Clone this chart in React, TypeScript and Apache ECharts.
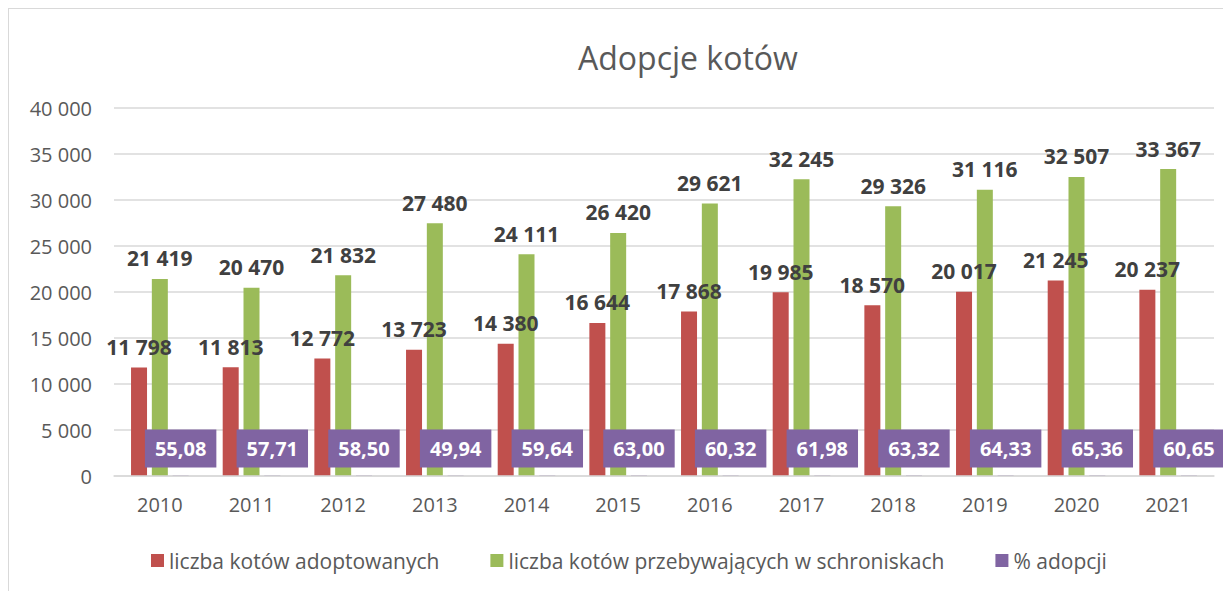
import React, { useEffect, useRef } from "react";
import * as echarts from "echarts";

const years = ["2010", "2011", "2012", "2013", "2014", "2015", "2016", "2017", "2018", "2019", "2020", "2021"];
const adopted = [11798, 11813, 12772, 13723, 14380, 16644, 17868, 19985, 18570, 20017, 21245, 20237];
const inShelters = [21419, 20470, 21832, 27480, 24111, 26420, 29621, 32245, 29326, 31116, 32507, 33367];
const adoptionPct = [55.08, 57.71, 58.5, 49.94, 59.64, 63.0, 60.32, 61.98, 63.32, 64.33, 65.36, 60.65];

const seriesNames = ["liczba kotów adoptowanych", "liczba kotów przebywających w schroniskach", "% adopcji"];

const FONT = "'Open Sans', 'Noto Sans', sans-serif";

function thousands(v: number): string {
  return String(Math.round(v)).replace(/\B(?=(\d{3})+(?!\d))/g, " ");
}

export default function App() {
  const ref = useRef<HTMLDivElement>(null);

  useEffect(() => {
    document.body.style.overflow = "hidden";
    const chart = echarts.init(ref.current!, undefined, { renderer: "svg" });
    const valueLabel = {
      show: true,
      position: "top",
      distance: 10,
      color: "#404040",
      fontFamily: FONT,
      fontWeight: "bold",
      fontSize: 21,
      formatter: (p: any) => thousands(p.value),
    };
    chart.setOption({
      animation: false,
      backgroundColor: "#ffffff",
      textStyle: { fontFamily: FONT },
      title: {
        text: "Adopcje kotów",
        left: 564,
        top: 27,
        textStyle: { fontFamily: FONT, fontSize: 32, fontWeight: "normal", color: "#595959" },
      },
      legend: {
        left: 137,
        top: 536,
        icon: "rect",
        itemWidth: 13,
        itemHeight: 13,
        itemGap: 51,
        textStyle: { fontFamily: FONT, fontSize: 21, color: "#595959" },
        data: seriesNames,
      },
      grid: { left: 105, right: 17, top: 99, bottom: 115 },
      xAxis: {
        type: "category",
        data: years,
        z: 5,
        axisLine: { lineStyle: { color: "#d9d9d9", width: 1.5 } },
        axisTick: { show: false },
        axisLabel: { color: "#595959", fontSize: 20, fontFamily: FONT, margin: 18 },
      },
      yAxis: {
        type: "value",
        min: 0,
        max: 40000,
        interval: 5000,
        axisLine: { show: false },
        axisTick: { show: false },
        splitLine: { lineStyle: { color: "#d9d9d9", width: 1.5 } },
        axisLabel: {
          color: "#595959",
          fontSize: 20,
          fontFamily: FONT,
          margin: 22,
          formatter: (v: number) => thousands(v),
        },
      },
      series: [
        {
          name: seriesNames[0],
          type: "bar",
          data: adopted,
          barWidth: 16,
          barGap: "30%",
          itemStyle: { color: "#c0504d" },
          label: valueLabel,
        },
        {
          name: seriesNames[1],
          type: "bar",
          data: inShelters,
          barWidth: 16,
          barGap: "30%",
          itemStyle: { color: "#9bbb59" },
          label: valueLabel,
        },
        {
          name: seriesNames[2],
          type: "bar",
          data: adoptionPct,
          barWidth: 16,
          barGap: "30%",
          itemStyle: { color: "#8064a2" },
          label: {
            show: true,
            position: "top",
            distance: 8,
            color: "#ffffff",
            fontFamily: FONT,
            fontWeight: "bold",
            fontSize: 20,
            lineHeight: 22,
            backgroundColor: "#8064a2",
            padding: [8, 10],
            formatter: (p: any) => p.value.toFixed(2).replace(".", ","),
          },
        },
      ],
    });
    return () => chart.dispose();
  }, []);

  return (
    <div
      ref={ref}
      style={{
        width: 1223,
        height: 583,
        borderTop: "1px solid #d9d9d9",
        borderLeft: "1px solid #d9d9d9",
        boxSizing: "border-box",
      }}
    />
  );
}
